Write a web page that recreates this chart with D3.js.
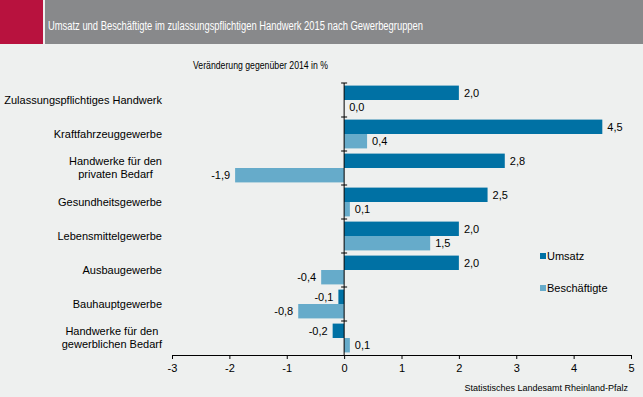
<!DOCTYPE html>
<html>
<head>
<meta charset="utf-8">
<script src="https://cdn.jsdelivr.net/npm/d3@7"></script>
<style>
    html, body { margin: 0; padding: 0; background: #eef0ef; }
    svg { display: block; font-family: "Liberation Sans", Arial, sans-serif; }
</style>
</head>
<body>
<svg id="chart" width="643" height="397"></svg>
<script>
const TITLE     = 'Umsatz und Beschäftigte im zulassungspflichtigen Handwerk 2015 nach Gewerbegruppen';
const SUBTITLE  = 'Veränderung gegenüber 2014 in %';
const SOURCE    = 'Statistisches Landesamt Rheinland-Pfalz';

const categories = [
    ['Zulassungspflichtiges Handwerk'],
    ['Kraftfahrzeuggewerbe'],
    ['Handwerke für den', 'privaten Bedarf'],
    ['Gesundheitsgewerbe'],
    ['Lebensmittelgewerbe'],
    ['Ausbaugewerbe'],
    ['Bauhauptgewerbe'],
    ['Handwerke für den', 'gewerblichen Bedarf']
];
const seriesNames   = ['Umsatz', 'Beschäftigte'];
const umsatz        = [2.0, 4.5, 2.8, 2.5, 2.0, 2.0, -0.1, -0.2];
const beschaeftigte = [0.0, 0.4, -1.9, 0.1, 1.5, -0.4, -0.8, 0.1];
const xTicks        = [-3, -2, -1, 0, 1, 2, 3, 4, 5];

const COLORS = ['#0071a4', '#66abca'];

const svg = d3.select('#chart');

// header band
svg.append('rect').attr('x', 0).attr('y', 0).attr('width', 43).attr('height', 44).attr('fill', '#b8123e');
svg.append('rect').attr('x', 45).attr('y', 0).attr('width', 598).attr('height', 44).attr('fill', '#88898b');
svg.append('text')
    .attr('x', 48).attr('y', 30)
    .attr('fill', '#fff')
    .attr('font-size', 12)
    .attr('textLength', 375)
    .attr('lengthAdjust', 'spacingAndGlyphs')
    .text(TITLE);

svg.append('text')
    .attr('x', 193).attr('y', 69)
    .attr('font-size', 11)
    .attr('textLength', 135)
    .attr('lengthAdjust', 'spacingAndGlyphs')
    .text(SUBTITLE);

// scales
const x = d3.scaleLinear().domain([-3, 5]).range([172, 631]);
const y = d3.scaleBand().domain(d3.range(categories.length)).range([83, 355]);
const ySub = d3.scaleBand().domain([0, 1]).range([0, y.bandwidth()]).paddingOuter(0.18);

const rows = categories.map((c, i) => ({ i, values: [umsatz[i], beschaeftigte[i]] }));
const fmt = v => d3.format('.1f')(v).replace('.', ',').replace('−', '-');

const groups = svg.append('g')
    .selectAll('g')
    .data(rows)
    .join('g')
    .attr('transform', d => `translate(0,${y(d.i)})`);

groups.selectAll('rect')
    .data(d => d.values.map((v, s) => ({ v, s })))
    .join('rect')
    .attr('x', d => x(Math.min(0, d.v)))
    .attr('y', d => ySub(d.s))
    .attr('width', d => Math.abs(x(d.v) - x(0)))
    .attr('height', ySub.bandwidth())
    .attr('fill', d => COLORS[d.s]);

groups.selectAll('text.value')
    .data(d => d.values.map((v, s) => ({ v, s })))
    .join('text')
    .attr('class', 'value')
    .attr('x', d => d.v < 0 ? x(d.v) - 5 : x(d.v) + 5)
    .attr('y', d => ySub(d.s) + ySub.bandwidth() / 2)
    .attr('dy', '0.35em')
    .attr('text-anchor', d => d.v < 0 ? 'end' : 'start')
    .attr('font-size', 11)
    .text(d => fmt(d.v));

// category labels, right edge at 162, multi-line centred on the widest line
const labels = svg.append('g')
    .selectAll('text')
    .data(categories.map((lines, i) => ({ lines, i })))
    .join('text')
    .attr('font-size', 11)
    .attr('y', d => y(d.i) + y.bandwidth() / 2 - (d.lines.length - 1) * 6.5)
    .attr('text-anchor', d => d.lines.length > 1 ? 'middle' : 'end');

labels.selectAll('tspan')
    .data(d => d.lines)
    .join('tspan')
    .attr('dy', (d, k) => k === 0 ? '0.35em' : 13)
    .text(d => d);

labels.each(function (d) {
    const t = d3.select(this);
    if (d.lines.length > 1) {
        const w = d3.max(t.selectAll('tspan').nodes(), n => n.getComputedTextLength());
        t.selectAll('tspan').attr('x', 162 - w / 2);
    } else {
        t.selectAll('tspan').attr('x', 162);
    }
});

// x axis
const xAxis = svg.append('g')
    .attr('transform', 'translate(0,355)')
    .call(d3.axisBottom(x).tickValues(xTicks).tickSize(4).tickFormat(d => String(d).replace('−', '-')));
xAxis.attr('font-family', null);
xAxis.select('.domain').attr('stroke', '#000');
xAxis.selectAll('text').attr('font-size', 11).attr('dy', '0.9em');

// y axis line with separator ticks
svg.append('line')
    .attr('x1', x(0)).attr('x2', x(0))
    .attr('y1', 83).attr('y2', 355)
    .attr('stroke', '#000');
svg.append('g')
    .selectAll('line')
    .data(d3.range(categories.length))
    .join('line')
    .attr('x1', x(0) - 3).attr('x2', x(0) + 3)
    .attr('y1', i => y(i)).attr('y2', i => y(i))
    .attr('stroke', '#000');

// legend
const legend = svg.append('g')
    .selectAll('g')
    .data(seriesNames)
    .join('g')
    .attr('transform', (d, i) => `translate(540,${256 + i * 32})`);
legend.append('rect')
    .attr('x', 0).attr('y', -3)
    .attr('width', 6).attr('height', 6)
    .attr('fill', (d, i) => COLORS[i]);
legend.append('text')
    .attr('x', 7).attr('dy', '0.35em')
    .attr('font-size', 11)
    .text(d => d);

svg.append('text')
    .attr('x', 628).attr('y', 391)
    .attr('text-anchor', 'end')
    .attr('font-size', 9)
    .text(SOURCE);
</script>
</body>
</html>
